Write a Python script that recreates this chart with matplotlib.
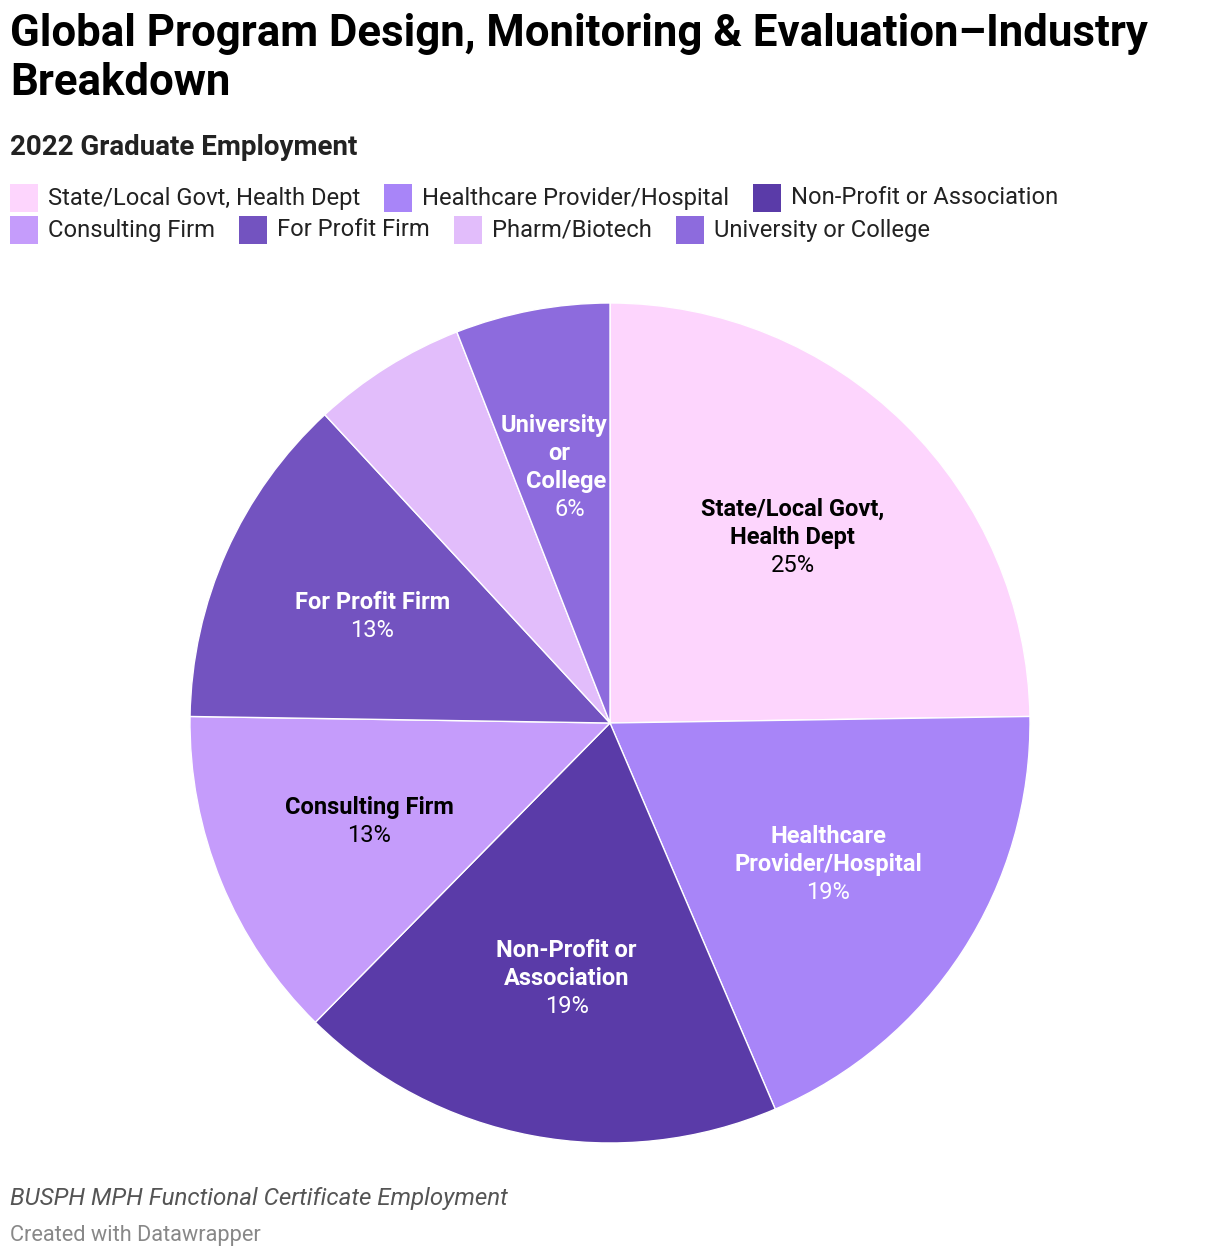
import matplotlib
matplotlib.use("Agg")
import matplotlib.pyplot as plt
from matplotlib.patches import Rectangle
import numpy as np

plt.rcParams['font.family'] = ['Roboto', 'DejaVu Sans']

# data (percent of graduates, as entered in the source chart)
categories = ['State/Local Govt, Health Dept', 'Healthcare Provider/Hospital',
              'Non-Profit or Association', 'Consulting Firm', 'For Profit Firm',
              'Pharm/Biotech', 'University or College']
pie_labels = ['State/Local Govt,\nHealth Dept', 'Healthcare\nProvider/Hospital',
              'Non-Profit or\nAssociation', 'Consulting Firm', 'For Profit Firm',
              None, 'University\nor\nCollege']
values = [25, 19, 19, 13, 13, 6, 6]
colors = ['#fdd5fd', '#a885f8', '#5a3ba8', '#c59cfb', '#7353c0', '#e2bdfb', '#8d6bdd']
text_colors = ['black', 'white', 'white', 'black', 'white', 'black', 'white']

W, H = 1220, 1258
fig = plt.figure(figsize=(W / 100, H / 100), dpi=100)

def fx(px):
    return px / W

def fy(py):
    return 1 - py / H

# titles
fig.text(fx(10), fy(13), 'Global Program Design, Monitoring & Evaluation\u2013Industry\nBreakdown',
         fontsize=31.5, fontweight='bold', va='top', ha='left', linespacing=1.2)
fig.text(fx(10), fy(134), '2022 Graduate Employment', fontsize=20, fontweight='bold',
         va='top', ha='left', color='#222222')

# legend, flowing like datawrapper
renderer = fig.canvas.get_renderer()
x, row_y = 10, 198
for cat, col in zip(categories, colors):
    t = fig.text(0, 0, cat, fontsize=17.1, va='center', ha='left', color='#222222')
    w = t.get_window_extent(renderer).width
    if x + 38 + w > 1210:
        x = 10
        row_y += 32
    t.set_position((fx(x + 38), fy(row_y)))
    fig.patches.append(Rectangle((fx(x), fy(row_y + 14)), fx(28), 28 / H,
                                 transform=fig.transFigure, facecolor=col, edgecolor='none'))
    x = x + 38 + w + 24

# pie
ax = fig.add_axes([fx(190), fy(1143), fx(840), 840 / H])
wedges, _ = ax.pie(values, colors=colors, startangle=90, counterclock=False,
                   wedgeprops=dict(edgecolor='white', linewidth=1))
ax.set_xlim(-1, 1)
ax.set_ylim(-1, 1)
ax.set_aspect('equal')
ax.axis('off')

step = 28 / 420  # one text line, in data units
# datawrapper nudges some lines along the slice edge
line_shift = {2: [5, 5, 5], 6: [-8, -2, 4, 8]}
for i, (w, lab, v, tc) in enumerate(zip(wedges, pie_labels, values, text_colors)):
    if lab is None:
        continue
    ang = np.deg2rad((w.theta1 + w.theta2) / 2)
    cx, cy = 0.62 * np.cos(ang), 0.62 * np.sin(ang)
    lines = lab.split('\n') + [f'{v}%']
    n = len(lines)
    shifts = line_shift.get(i, [0] * n)
    for k, line in enumerate(lines):
        ly = cy + step * ((n - 1) / 2 - k)
        bold = k < n - 1
        ax.text(cx + shifts[k] / 420, ly, line, ha='center', va='center', fontsize=17,
                fontweight='bold' if bold else 'normal', color=tc)

# footer
fig.text(fx(10), fy(1198), 'BUSPH MPH Functional Certificate Employment', fontsize=17.4,
         style='italic', color='#555555', va='center', ha='left')
fig.text(fx(10), fy(1235), 'Created with Datawrapper', fontsize=15.7, color='#888888',
         va='center', ha='left')

fig.savefig('out.png', dpi=100, facecolor='white')
